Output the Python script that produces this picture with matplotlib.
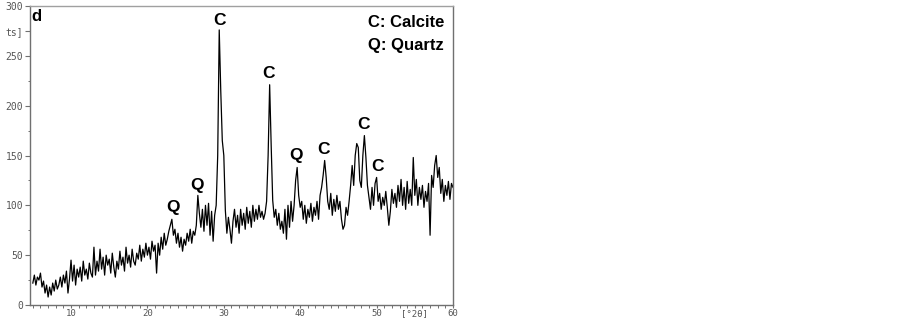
import numpy as np
import matplotlib
matplotlib.use("Agg")
import matplotlib.pyplot as plt
from matplotlib.ticker import MultipleLocator, FixedLocator

# 2-theta from 5.0 to 60.0 in 0.2 deg steps
two_theta_start = 5.0
two_theta_step = 0.2
counts = [
    22, 30, 20, 28, 25, 32, 18, 24, 12, 20,          # 5.0-6.8
    8, 18, 10, 22, 14, 25, 16, 20, 28, 18,           # 7.0-8.8
    30, 22, 34, 12, 26, 45, 24, 40, 20, 36,          # 9.0-10.8
    28, 38, 24, 44, 30, 36, 26, 42, 32, 28,          # 11.0-12.8
    58, 30, 44, 34, 56, 36, 48, 30, 50, 40,          # 13.0-14.8
    46, 32, 52, 38, 28, 44, 36, 54, 40, 48,          # 15.0-16.8
    34, 58, 42, 50, 38, 56, 44, 40, 52, 46,          # 17.0-18.8
    60, 44, 56, 48, 62, 50, 58, 46, 64, 54,          # 19.0-20.8
    60, 32, 62, 50, 68, 56, 72, 60, 66, 74,          # 21.0-22.8
    80, 86, 70, 76, 62, 72, 58, 68, 54, 66,          # 23.0-24.8
    60, 72, 64, 76, 62, 74, 70, 80, 110, 92,         # 25.0-26.8
    78, 96, 74, 100, 80, 102, 70, 94, 64, 90,        # 27.0-28.8
    100, 150, 276, 215, 165, 150, 95, 72, 88, 76,    # 29.0-30.8
    62, 84, 96, 78, 90, 72, 96, 80, 92, 76,          # 31.0-32.8
    98, 82, 94, 78, 100, 84, 96, 86, 100, 88,        # 33.0-34.8
    94, 86, 92, 104, 150, 221, 160, 105, 88, 96,     # 35.0-36.8
    80, 92, 76, 84, 72, 96, 66, 100, 78, 104,        # 37.0-38.8
    84, 100, 125, 138, 110, 98, 104, 86, 100, 82,    # 39.0-40.8
    96, 88, 102, 84, 98, 90, 104, 86, 110, 118,      # 41.0-42.8
    130, 145, 128, 104, 96, 112, 90, 106, 94, 110,   # 43.0-44.8
    96, 104, 86, 76, 80, 98, 90, 104, 120, 140,      # 45.0-46.8
    120, 150, 162, 158, 125, 118, 150, 170, 148, 120,  # 47.0-48.8
    108, 96, 118, 100, 122, 128, 104, 112, 96, 108,  # 49.0-50.8
    100, 114, 98, 80, 94, 116, 102, 112, 98, 120,    # 51.0-52.8
    104, 126, 100, 118, 96, 124, 102, 116, 100, 148, # 53.0-54.8
    110, 126, 100, 118, 106, 120, 98, 114, 104, 122, # 55.0-56.8
    70, 130, 118, 140, 150, 128, 138, 112, 126, 104, # 57.0-58.8
    120, 110, 124, 106, 122, 118,                    # 59.0-60.0
]
two_theta = two_theta_start + two_theta_step * np.arange(len(counts))

peak_labels = ["C", "C", "Q", "Q", "Q", "C", "C", "C"]
peak_label_x = [29.5, 35.8, 23.3, 26.5, 39.5, 43.1, 48.3, 50.1]
peak_label_y = [285, 232, 98, 120, 150, 156, 181, 139]

legend_lines = ["C: Calcite", "Q: Quartz"]

x_tick_values = [10, 20, 30, 40, 50, 55, 60]
x_tick_labels = ["10", "20", "30", "40", "50", "[\u00b02\u03b8]", "60"]
y_tick_values = [0, 50, 100, 150, 200, 250, 275, 300]
y_tick_labels = ["0", "50", "100", "150", "200", "250", "ts]", "300"]

fig = plt.figure(figsize=(9.03, 3.19), dpi=100)
ax = fig.add_axes([30 / 903, 14 / 319, 423 / 903, 299 / 319])

ax.plot(two_theta, counts, color="black", linewidth=0.9)
ax.set_xlim(4.63, 60)
ax.set_ylim(0, 300)

spine_color = "#707070"
for s in ax.spines.values():
    s.set_color(spine_color)
    s.set_linewidth(1.0)
ax.spines["top"].set_color("#a0a0a0")

ax.xaxis.set_major_locator(FixedLocator(x_tick_values))
ax.set_xticklabels(x_tick_labels)
ax.xaxis.set_minor_locator(MultipleLocator(1))
ax.yaxis.set_major_locator(FixedLocator(y_tick_values))
ax.set_yticklabels(y_tick_labels)
ax.yaxis.set_minor_locator(MultipleLocator(25))

ax.tick_params(axis="y", which="major", direction="out", length=3.5,
               width=0.8, color=spine_color, labelsize=7, labelcolor="#555555", pad=1.5)
ax.tick_params(axis="x", which="major", direction="out", length=2.5,
               width=0.8, color=spine_color, labelsize=6.5, labelcolor="#555555", pad=0.3)
ax.tick_params(axis="both", which="minor", direction="out", length=1.8,
               width=0.7, color=spine_color)
for lab in ax.get_xticklabels() + ax.get_yticklabels():
    lab.set_fontfamily("DejaVu Sans Mono")

for t, x, y in zip(peak_labels, peak_label_x, peak_label_y):
    ax.text(x, y, t, ha="center", va="center", fontsize=12.5, fontweight="bold",
            family="Liberation Sans", color="black")

ax.text(48.9, 283, legend_lines[0], ha="left", va="center", fontsize=12,
        fontweight="bold", family="Liberation Sans")
ax.text(48.9, 260, legend_lines[1], ha="left", va="center", fontsize=12,
        fontweight="bold", family="Liberation Sans")

ax.text(4.8, 289, "d", ha="left", va="center", fontsize=12, fontweight="bold",
        family="Liberation Sans")

fig.savefig("out.png", dpi=100)
